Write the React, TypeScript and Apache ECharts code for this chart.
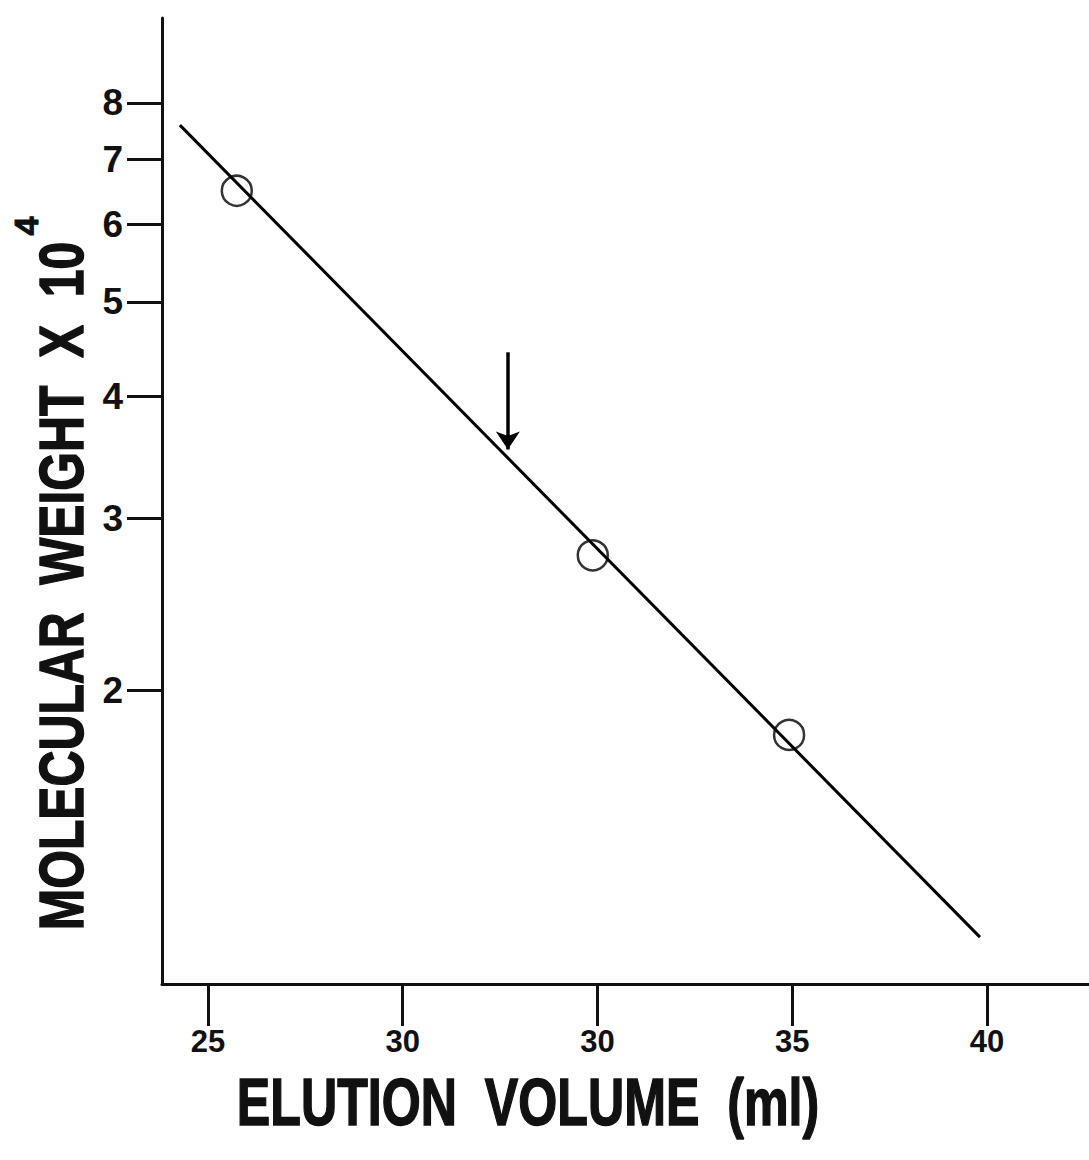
import React, { useEffect, useRef } from "react";
import * as echarts from "echarts";

// x-axis tick positions (evenly spaced) and their printed labels (as printed in the original)
const xTickValues = [25, 30, 35, 40, 45];
const xTickLabels = ["25", "30", "30", "35", "40"];
// y-axis (log scale) tick values, molecular weight x 10^4
const yTickValues = [2, 3, 4, 5, 6, 7, 8];
// calibration points
const pointX = [25.74, 34.88, 39.92];
const pointY = [6.5, 2.75, 1.8];
// fitted calibration line end points
const fitLineX = [24.28, 44.82];
const fitLineY = [7.59, 1.117];
// arrow marking the unknown
const arrowX = 32.7;
const arrowY = [4.44, 3.53];

const lg = (v: number) => Math.log10(v);

export default function App() {
  const ref = useRef<HTMLDivElement>(null);
  useEffect(() => {
    document.body.style.margin = "0";
    if (!ref.current) return;
    const chart = echarts.init(ref.current, null, { renderer: "svg" });
    const axisColor = "#111";
    chart.setOption({
      animation: false,
      backgroundColor: "#fff",
      grid: { left: 162, right: 0, top: 18, bottom: 176, containLabel: false },
      xAxis: {
        type: "value",
        min: 23.82,
        max: 47.62,
        axisLine: { show: true, lineStyle: { color: axisColor, width: 3 } },
        axisTick: {
          show: true,
          inside: false,
          length: 42,
          customValues: xTickValues,
          lineStyle: { color: axisColor, width: 3 },
        },
        axisLabel: {
          customValues: xTickValues,
          margin: 42,
          fontSize: 31,
          fontWeight: "bold",
          fontFamily: "Liberation Sans",
          color: "#111",
          formatter: (v: number) => {
            const i = xTickValues.indexOf(Math.round(v));
            return i >= 0 ? xTickLabels[i] : "";
          },
        },
        splitLine: { show: false },
      },
      yAxis: {
        type: "value",
        min: 0,
        max: 0.99,
        axisLine: { show: true, lineStyle: { color: axisColor, width: 3 } },
        axisTick: {
          show: true,
          inside: false,
          length: 35,
          customValues: yTickValues.map(lg),
          lineStyle: { color: axisColor, width: 3 },
        },
        axisLabel: {
          customValues: yTickValues.map(lg),
          margin: 39,
          fontSize: 37,
          fontWeight: "bold",
          fontFamily: "Liberation Sans",
          color: "#111",
          formatter: (v: number) => String(Math.round(Math.pow(10, v))),
        },
        splitLine: { show: false },
      },
      series: [
        {
          type: "line",
          data: fitLineX.map((x, i) => [x, lg(fitLineY[i])]),
          showSymbol: false,
          symbol: "none",
          lineStyle: { color: "#000", width: 3 },
          z: 2,
        },
        {
          type: "scatter",
          data: pointX.map((x, i) => [x, lg(pointY[i])]),
          symbol: "circle",
          symbolSize: 30,
          itemStyle: { color: "rgba(0,0,0,0)", borderColor: "#000", borderWidth: 2.5 },
          z: 3,
          markLine: {
            silent: true,
            symbol: ["none", "arrow"],
            symbolSize: 18,
            label: { show: false },
            lineStyle: { color: "#000", width: 3.5, type: "solid" },
            data: [
              [
                { coord: [arrowX, lg(arrowY[0])] },
                { coord: [arrowX, lg(arrowY[1])] },
              ],
            ],
          },
        },
      ],
      graphic: [
        {
          type: "text",
          x: 528,
          y: 1102,
          scaleX: 0.76,
          style: {
            text: "ELUTION  VOLUME  (ml)",
            font: 'bold 66px "Liberation Sans"',
            fill: "#111",
            stroke: "#111",
            lineWidth: 1.5,
            textAlign: "center",
            textVerticalAlign: "middle",
          },
        },
        {
          type: "text",
          x: 61,
          y: 586,
          rotation: Math.PI / 2,
          scaleX: 0.79,
          style: {
            text: "MOLECULAR  WEIGHT  X  10",
            font: 'bold 63px "Liberation Sans"',
            fill: "#111",
            stroke: "#111",
            lineWidth: 1.5,
            textAlign: "center",
            textVerticalAlign: "middle",
          },
        },
        {
          type: "text",
          x: 26,
          y: 226,
          rotation: Math.PI / 2,
          style: {
            text: "4",
            fontSize: 34,
            fontWeight: "bold",
            fontFamily: "Liberation Sans",
            fill: "#111",
            stroke: "#111",
            lineWidth: 1,
            textAlign: "center",
            textVerticalAlign: "middle",
          },
        },
      ],
    });
    return () => chart.dispose();
  }, []);
  return <div ref={ref} style={{ width: 1089, height: 1160 }} />;
}
